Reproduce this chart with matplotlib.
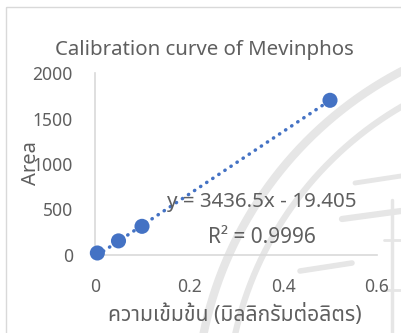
import numpy as np
import matplotlib
matplotlib.use("Agg")
import matplotlib.pyplot as plt
from matplotlib import font_manager
from matplotlib.ft2font import FT2Font
from matplotlib.patches import Rectangle

# ---- data ----
conc = [0.005, 0.05, 0.1, 0.5]          # mg/L
area = [22, 155, 315, 1700]
slope, intercept = 3436.5, -19.405
r_squared = 0.9996
x_ticks = [0, 0.2, 0.4, 0.6]
y_ticks = [0, 500, 1000, 1500, 2000]

title = "Calibration curve of Mevinphos"
x_label = "ความเข้มข้น (มิลลิกรัมต่อลิตร)"
y_label = "Area"


def find_thai_family():
    preferred = ["Noto Sans Thai", "Noto Sans Thai UI", "Noto Sans Thai Looped",
                 "Loma", "Garuda", "Waree", "Umpush", "Sarabun", "Kinnari", "Norasi"]
    found = {}
    for f in font_manager.fontManager.ttflist:
        if f.name in found:
            continue
        try:
            cmap = FT2Font(f.fname).get_charmap()
        except Exception:
            continue
        if 0x0E04 in cmap and 0x0E21 in cmap and 0x0E40 in cmap:
            found[f.name] = f.fname
    for name in preferred:
        if name in found:
            return name
    return next(iter(found), None)


thai = find_thai_family()
latin = "Noto Sans"
families = [latin] + ([thai] if thai else []) + ["DejaVu Sans"]
plt.rcParams["font.family"] = families

W, H = 401, 333
fig = plt.figure(figsize=(W / 100, H / 100), dpi=100)
fig.patch.set_facecolor("white")

# pixel-space helper axes for the frame and the faint seal in the background
bg = fig.add_axes([0, 0, 1, 1], zorder=0)
bg.set_xlim(0, W)
bg.set_ylim(H, 0)
bg.axis("off")
seal = "#e6e6e6"
t = np.linspace(0, 2 * np.pi, 2000)
cx, cy = 578.7, 410.8
for r, lw in [(383, 6.0), (352, 4.5)]:
    bg.plot(cx + r * np.cos(t), cy + r * np.sin(t), color=seal, lw=lw,
            solid_capstyle="round")
for (x0, y0, x1, y1, lw) in [(355, 183, 401, 176, 3.5), (342, 219, 401, 211, 4.5),
                             (300, 271, 352, 263, 4.0), (392, 200, 392, 333, 2.5),
                             (384, 240, 401, 240, 2.0), (384, 290, 401, 290, 2.0)]:
    bg.plot([x0, x1], [y0, y1], color=seal, lw=lw, solid_capstyle="round")
bg.add_patch(Rectangle((5.5, 6.5), W, H, fill=False, edgecolor="#d9d9d9", lw=1.0))

gray = "#5f5f5f"
ax_left, ax_right = 95 / W, 377 / W
ax_bottom, ax_top = 1 - 255 / H, 1 - 73 / H
ax = fig.add_axes([ax_left, ax_bottom, ax_right - ax_left, ax_top - ax_bottom], zorder=1)
ax.patch.set_alpha(0)

# trendline from the fitted equation
xs = np.array([min(conc), max(conc)])
ax.plot(xs, slope * xs + intercept, color="#4472C4", lw=2.5,
        linestyle=(0, (0.1, 2.0)), dash_capstyle="round", zorder=2, clip_on=False)
ax.scatter(conc, area, s=118, color="#4472C4", edgecolors="none", zorder=3, clip_on=False)

ax.set_xlim(0, 0.6)
ax.set_ylim(0, 2000)
ax.set_xticks(x_ticks)
ax.set_xticklabels(["0", "0.2", "0.4", "0.6"])
ax.set_yticks(y_ticks)
ax.set_yticklabels([str(v) for v in y_ticks])
ax.tick_params(axis="both", length=0, labelsize=12.6, labelcolor=gray)
ax.tick_params(axis="x", pad=16.5)
ax.tick_params(axis="y", pad=16)
for s in ["top", "right"]:
    ax.spines[s].set_visible(False)
for s in ["left", "bottom"]:
    ax.spines[s].set_color("#d9d9d9")
    ax.spines[s].set_linewidth(1.2)


def px(x, y):
    return x / W, 1 - y / H


fig.text(*px(204, 55), title, ha="center", va="baseline", fontsize=14.7, color=gray)
fig.text(*px(31, 163), y_label, ha="center", va="center", rotation=90,
         fontsize=14.5, color=gray)
fig.text(*px(235, 321), x_label, ha="center", va="baseline", fontsize=15.2, color=gray)
fig.text(*px(167, 207), f"y = {slope}x - {abs(intercept)}", ha="left", va="baseline",
         fontsize=14.8, color=gray)
fig.text(*px(208, 243), f"R² = {r_squared}", ha="left", va="baseline",
         fontsize=15.0, color=gray)

fig.savefig("out.png", dpi=100, facecolor="white")
